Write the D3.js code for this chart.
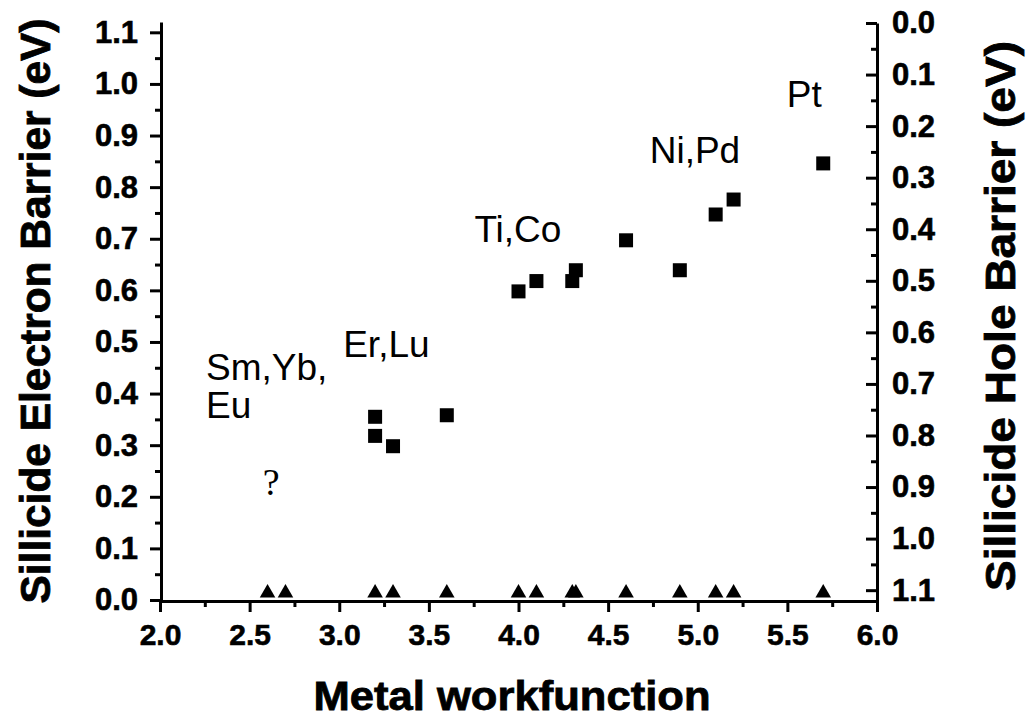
<!DOCTYPE html>
<html>
<head>
<meta charset="utf-8">
<script src="https://cdn.jsdelivr.net/npm/d3@7"></script>
<style>
  body { margin: 0; background: #fff; }
  svg text { font-family: "Liberation Sans", Arial, Helvetica, sans-serif; fill: #000; }
</style>
</head>
<body>
<svg id="chart" width="1028" height="719"></svg>
<script>
// measured silicides: metal workfunction (eV) vs electron barrier (eV)
const workfunction = [3.2, 3.2, 3.3, 3.6, 4.0, 4.1, 4.3, 4.32, 4.6, 4.9, 5.1, 5.2, 5.7];
const electronBarrier = [0.355, 0.318, 0.298, 0.358, 0.598, 0.618, 0.618, 0.639, 0.697, 0.639, 0.747, 0.776, 0.846];

// metals listed on the workfunction axis (triangles at zero)
const metalWorkfunction = [2.6, 2.7, 3.2, 3.3, 3.6, 4.0, 4.1, 4.3, 4.32, 4.6, 4.9, 5.1, 5.2, 5.7];

// group labels, anchored in data units (left edge / baseline)
const groupNames = ["Ti,Co", "Er,Lu", "Ni,Pd", "Pt", "Sm,Yb,", "Eu"];
const groupX     = [3.754, 3.022, 4.732, 5.497, 2.257, 2.257];
const groupY     = [0.693, 0.471, 0.846, 0.955, 0.426, 0.352];
const unknownMark = {x: 2.62, y: 0.203, text: "?"};

// tick labels
const xTicks = [2.0, 2.5, 3.0, 3.5, 4.0, 4.5, 5.0, 5.5, 6.0];
const xMinor = [2.25, 2.75, 3.25, 3.75, 4.25, 4.75, 5.25, 5.75];
const yTicks = [0.0, 0.1, 0.2, 0.3, 0.4, 0.5, 0.6, 0.7, 0.8, 0.9, 1.0, 1.1];
const yMinor = [0.05, 0.15, 0.25, 0.35, 0.45, 0.55, 0.65, 0.75, 0.85, 0.95, 1.05];

const xTitle = "Metal workfunction";
const yTitle = "Sillicide Electron Barrier (eV)";
const y2Title = "Sillicide Hole Barrier (eV)";

const svg = d3.select("#chart");
const fmt = d3.format(".1f");

let x = d3.scaleLinear().domain([2, 6]).range([160, 877]);
let y = d3.scaleLinear().domain([0, 1.12]).range([600, 22]);
// hole barrier axis runs top-down on the right side
let y2 = d3.scaleLinear().domain([0, 1.121]).range([23, 601]);

let styleAxis = g => g
    .call(g => g.select(".domain").attr("stroke", "#000").attr("stroke-width", 3))
    .call(g => g.selectAll(".tick line").attr("stroke", "#000").attr("stroke-width", 3))
    .call(g => g.selectAll(".tick text")
        .attr("font-family", "'Liberation Sans', Arial, sans-serif")
        .attr("font-weight", "bold")
        .attr("stroke", "#000")
        .attr("stroke-width", 0.6)
        .attr("fill", "#000"));

// bottom axis
svg.append("g")
    .attr("transform", "translate(0,601)")
    .call(d3.axisBottom(x).tickValues(xMinor).tickSize(6).tickFormat(""))
    .call(styleAxis)
    .call(g => g.select(".domain").remove());
svg.append("g")
    .attr("transform", "translate(0,601)")
    .call(d3.axisBottom(x).tickValues(xTicks).tickSize(11).tickSizeOuter(0).tickPadding(12).tickFormat(fmt))
    .call(styleAxis)
    .attr("font-size", 30);

// left axis
svg.append("g")
    .attr("transform", "translate(161,0)")
    .call(d3.axisLeft(y).tickValues(yMinor).tickSize(6).tickFormat(""))
    .call(styleAxis)
    .call(g => g.select(".domain").remove());
svg.append("g")
    .attr("transform", "translate(161,0)")
    .call(d3.axisLeft(y).tickValues(yTicks).tickSize(11).tickSizeOuter(0).tickPadding(12).tickFormat(fmt))
    .call(styleAxis)
    .attr("font-size", 31);

// right axis, ticks pointing inward
svg.append("g")
    .attr("transform", "translate(877,0)")
    .call(d3.axisRight(y2).tickValues(yMinor).tickSize(-6).tickFormat(""))
    .call(styleAxis)
    .call(g => g.select(".domain").remove());
svg.append("g")
    .attr("transform", "translate(877,0)")
    .call(d3.axisRight(y2).tickValues(yTicks).tickSize(-11).tickSizeOuter(0).tickPadding(15).tickFormat(fmt))
    .call(styleAxis)
    .attr("font-size", 31);

// triangles on the workfunction axis
svg.append("g")
    .selectAll("path")
    .data(metalWorkfunction)
    .join("path")
    .attr("d", d3.symbol(d3.symbolTriangle, 105))
    .attr("transform", d => `translate(${x(d)},${y(0) - 7})`)
    .attr("fill", "#000");

// squares: measured barriers
svg.append("g")
    .selectAll("rect")
    .data(workfunction.map((w, i) => ({w, b: electronBarrier[i]})))
    .join("rect")
    .attr("x", d => x(d.w) - 7)
    .attr("y", d => y(d.b) - 7)
    .attr("width", 14)
    .attr("height", 14)
    .attr("fill", "#000");

// group labels
svg.append("g")
    .selectAll("text")
    .data(groupNames)
    .join("text")
    .attr("x", (d, i) => x(groupX[i]))
    .attr("y", (d, i) => y(groupY[i]))
    .attr("font-size", 37)
    .text(d => d);

svg.append("text")
    .attr("x", x(unknownMark.x))
    .attr("y", y(unknownMark.y))
    .attr("text-anchor", "middle")
    .attr("font-size", 38)
    .style("font-family", "'Liberation Serif', 'Times New Roman', serif")
    .text(unknownMark.text);

// axis titles
svg.append("text")
    .attr("x", 512)
    .attr("y", 710)
    .attr("text-anchor", "middle")
    .attr("font-size", 40)
    .attr("font-weight", "bold")
    .attr("stroke", "#000")
    .attr("stroke-width", 0.8)
    .attr("textLength", 397)
    .attr("lengthAdjust", "spacingAndGlyphs")
    .text(xTitle);

svg.append("text")
    .attr("transform", "translate(35,311) rotate(-90)")
    .attr("text-anchor", "middle")
    .attr("dominant-baseline", "central")
    .attr("font-size", 42)
    .attr("font-weight", "bold")
    .attr("stroke", "#000")
    .attr("stroke-width", 0.8)
    .attr("textLength", 585)
    .attr("lengthAdjust", "spacingAndGlyphs")
    .text(yTitle);

svg.append("text")
    .attr("transform", "translate(1000,316) rotate(-90)")
    .attr("text-anchor", "middle")
    .attr("dominant-baseline", "central")
    .attr("font-size", 43)
    .attr("font-weight", "bold")
    .attr("stroke", "#000")
    .attr("stroke-width", 0.8)
    .attr("textLength", 550)
    .attr("lengthAdjust", "spacingAndGlyphs")
    .text(y2Title);
</script>
</body>
</html>
